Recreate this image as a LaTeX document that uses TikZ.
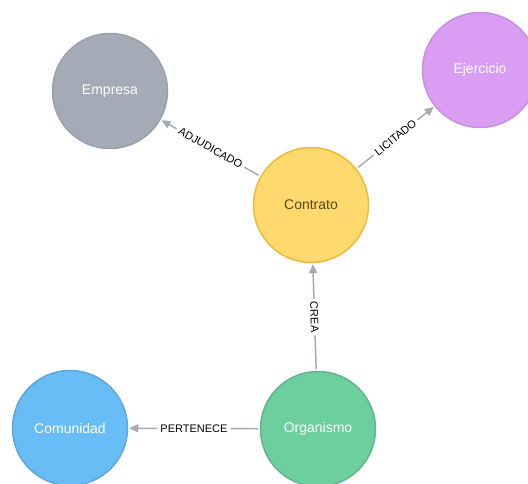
\documentclass[tikz,border=0pt]{standalone}
\usepackage{fontspec}
\setmainfont{Liberation Sans}
\usetikzlibrary{arrows.meta}
\definecolor{empf}{HTML}{A5ABB6}
\definecolor{empd}{HTML}{9AA1AC}
\definecolor{ejef}{HTML}{DA9DF4}
\definecolor{ejed}{HTML}{C98CE3}
\definecolor{conf}{HTML}{FFD86E}
\definecolor{cond}{HTML}{EDBA39}
\definecolor{cont}{HTML}{5A4A1A}
\definecolor{orgf}{HTML}{6DCE9E}
\definecolor{orgd}{HTML}{60B58B}
\definecolor{comf}{HTML}{68BDF6}
\definecolor{comd}{HTML}{5CA8DB}
\definecolor{edgec}{HTML}{A5ABB6}
\begin{document}
\begin{tikzpicture}[x=1pt,y=-1pt,
  nd/.style={circle, minimum size=115pt, inner sep=0pt, line width=1.5pt,
    font=\fontsize{14}{16}\selectfont, text=white},
  rel/.style={draw=edgec, line width=1.5pt, -{Triangle[length=9pt,width=8pt]},
    shorten <=2pt, shorten >=1pt},
  lbl/.style={fill=white, font=\fontsize{11}{13}\selectfont, inner sep=3pt,
    sloped, text=black}]
\useasboundingbox (0,0) rectangle (528,484);
\node[nd, fill=empf, draw=empd] (emp) at (110,91) {Empresa};
\node[nd, fill=ejef, draw=ejed] (eje) at (480,70) {Ejercicio};
\node[nd, fill=conf, draw=cond, text=cont] (con) at (311,205) {Contrato};
\node[nd, fill=orgf, draw=orgd] (org) at (318,429) {Organismo};
\node[nd, fill=comf, draw=comd] (com) at (70,428) {Comunidad};
\draw[rel] (con) -- node[lbl]{ADJUDICADO} (emp);
\draw[rel] (con) -- node[lbl]{LICITADO} (eje);
\draw[rel] (org) -- node[lbl]{CREA} (con);
\draw[rel] (org) -- node[lbl]{PERTENECE} (com);
\end{tikzpicture}
\end{document}
